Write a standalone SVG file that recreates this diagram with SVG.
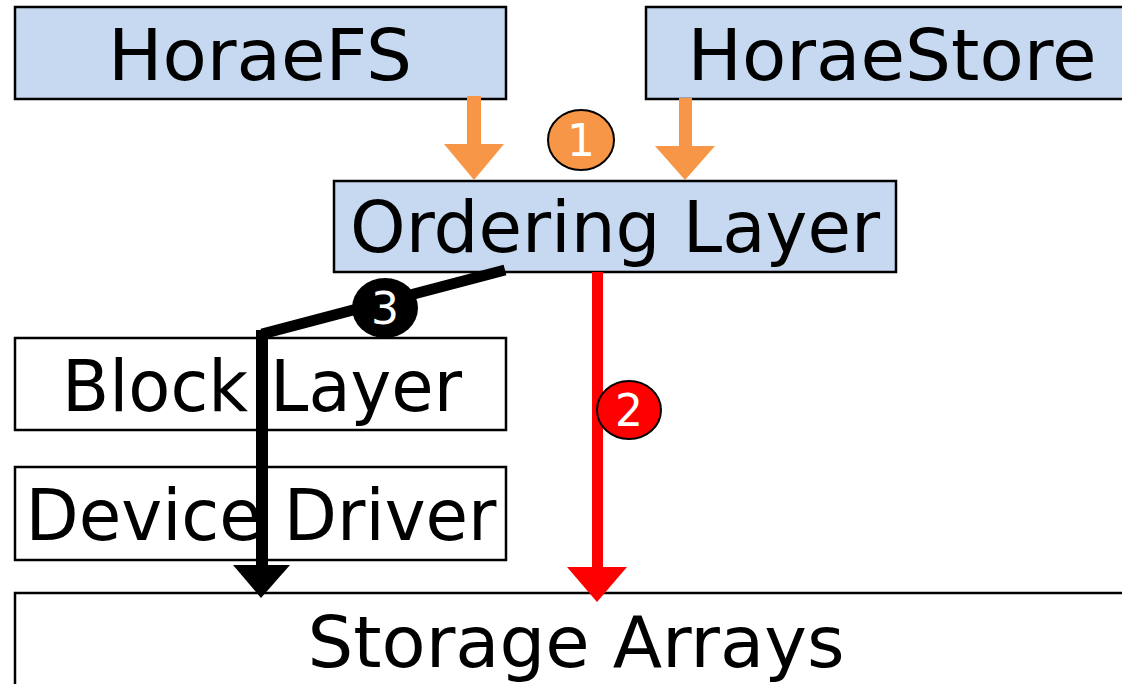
<svg xmlns="http://www.w3.org/2000/svg" width="1122" height="684" viewBox="0 0 1122 684">
  <defs>
    <style>
      .box { stroke: #000; stroke-width: 2.5; }
      .blue { fill: #c6d9f0; }
      .white { fill: #fff; }
      .label { font-family: "DejaVu Sans", "Liberation Sans", sans-serif; font-size: 72px; fill: #000; text-anchor: middle; }
      .num { font-family: "DejaVu Sans", "Liberation Sans", sans-serif; font-size: 44px; fill: #fff; text-anchor: middle; }
    </style>
  </defs>
  <rect width="1122" height="684" fill="#fff"/>

  <g id="horaefs">
    <rect class="box blue" x="15" y="7" width="491" height="92"/>
    <text class="label" x="260" y="80" textLength="304" lengthAdjust="spacingAndGlyphs">HoraeFS</text>
  </g>
  <g id="horaestore">
    <rect class="box blue" x="646" y="7" width="490" height="92"/>
    <text class="label" x="892" y="80" textLength="409" lengthAdjust="spacingAndGlyphs">HoraeStore</text>
  </g>
  <g id="ordering-layer">
    <rect class="box blue" x="334" y="181" width="562" height="91"/>
    <text class="label" x="615" y="252" textLength="530" lengthAdjust="spacingAndGlyphs">Ordering Layer</text>
  </g>
  <g id="block-layer">
    <rect class="box white" x="15" y="338" width="491" height="92"/>
    <text class="label" x="262" y="411" textLength="400" lengthAdjust="spacingAndGlyphs">Block Layer</text>
  </g>
  <g id="device-driver">
    <rect class="box white" x="15" y="467" width="491" height="93"/>
    <text class="label" x="261" y="540" textLength="471" lengthAdjust="spacingAndGlyphs">Device Driver</text>
  </g>
  <g id="storage-arrays">
    <rect class="box white" x="15" y="593" width="1130" height="120"/>
    <text class="label" x="576" y="667" textLength="537" lengthAdjust="spacingAndGlyphs">Storage Arrays</text>
  </g>

  <g id="connectors">
    <!-- step 1: orange arrows into the ordering layer -->
    <rect x="467" y="96" width="14" height="48" fill="#f79646"/>
    <polygon points="444,144 504,144 474,180" fill="#f79646"/>
    <rect x="679" y="98" width="13" height="48" fill="#f79646"/>
    <polygon points="655,146 715,146 685,180" fill="#f79646"/>
    <!-- step 2: red arrow down to storage -->
    <rect x="592" y="272" width="11" height="296" fill="#ff0000"/>
    <polygon points="567,567 627,567 597,602" fill="#ff0000"/>
    <!-- step 3: black path through the block stack -->
    <polyline points="505,270 262,334" fill="none" stroke="#000" stroke-width="11"/>
    <rect x="256" y="330" width="12" height="236" fill="#000"/>
    <polygon points="233,565 290,565 261,598" fill="#000"/>
  </g>

  <g id="badge-1">
    <ellipse cx="581" cy="140" rx="33" ry="30" fill="#f79646" stroke="#000" stroke-width="2"/>
    <text class="num" x="581" y="156">1</text>
  </g>
  <g id="badge-2">
    <ellipse cx="629" cy="410" rx="32" ry="29" fill="#ff0000" stroke="#000" stroke-width="2"/>
    <text class="num" x="629" y="426">2</text>
  </g>
  <g id="badge-3">
    <ellipse cx="385" cy="308" rx="33" ry="30" fill="#000"/>
    <text class="num" x="385" y="324">3</text>
  </g>
</svg>
